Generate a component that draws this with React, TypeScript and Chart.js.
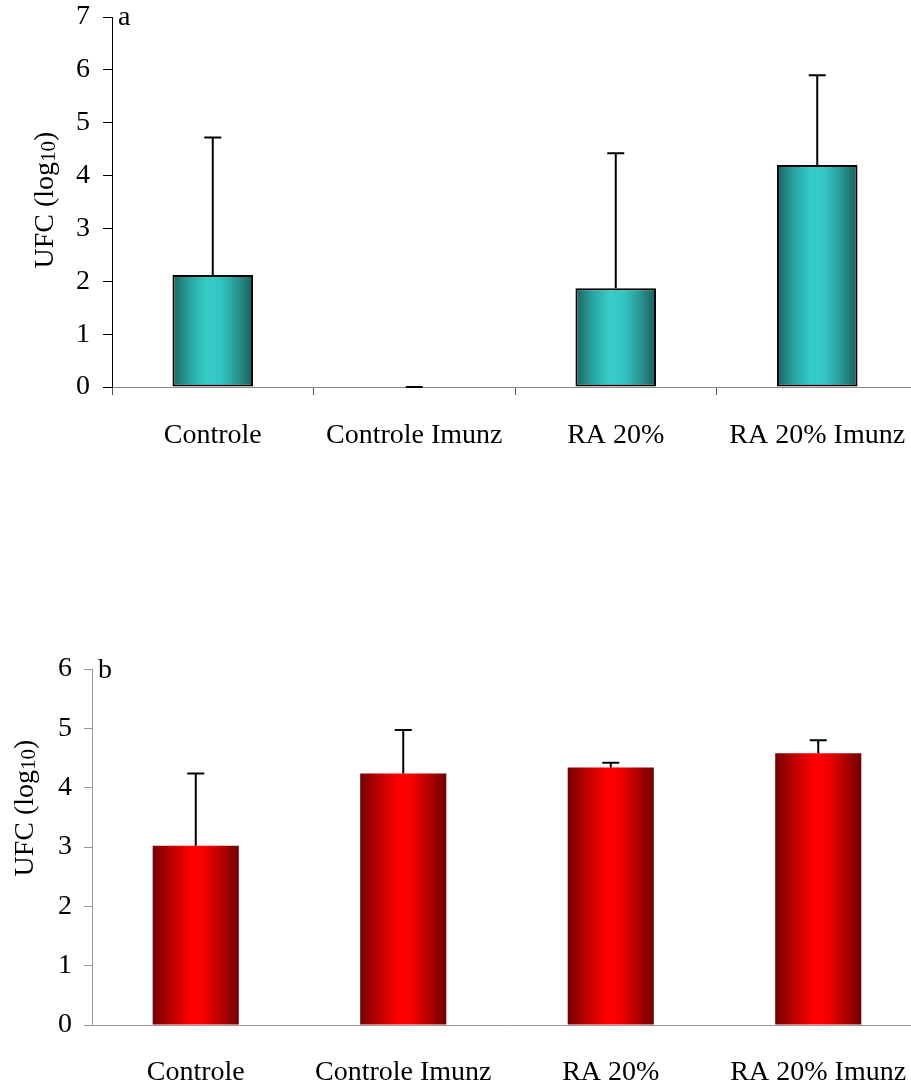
import React, { useEffect, useRef } from "react";
import { Chart, registerables } from "chart.js";

Chart.register(...registerables);

// ---- data ----
const categories = ["Controle", "Controle Imunz", "RA 20%", "RA 20% Imunz"];
const valuesA = [2.12, 0, 1.87, 4.2];
const errorsA = [2.6, 0, 2.55, 1.7];
const valuesB = [3.02, 4.24, 4.34, 4.58];
const errorsB = [1.22, 0.73, 0.08, 0.22];
const yMaxA = 7;
const yMaxB = 6;
const titleMain = "UFC (log";
const titleSub = "10";
const titleEnd = ")";
const panelA = "a";
const panelB = "b";

const FONT = "'Liberation Serif', 'Times New Roman', serif";

type Panel = {
  values: number[];
  errors: number[];
  yMax: number;
  width: number;
  height: number;
  areaLeft: number;
  areaTop: number;
  areaBottom: number;
  barPct: number;
  stops: [number, string][];
  border: boolean;
  yAxisColor: string;
  xAxisColor: string;
  xTicks: boolean;
  yTickLen: number;
  yTickPad: number;
  xLabelPad: number;
  titleX: number;
  titleY: number;
  letter: string;
  letterX: number;
  letterY: number;
};

function makeConfig(p: Panel): any {
  const errorPlugin = {
    id: "errbars",
    afterDatasetsDraw(chart: any) {
      const ctx = chart.ctx;
      const meta = chart.getDatasetMeta(0);
      const ys = chart.scales.y;
      ctx.save();
      ctx.strokeStyle = "#000";
      ctx.lineWidth = 2;
      meta.data.forEach((el: any, i: number) => {
        const top = ys.getPixelForValue(p.values[i] + p.errors[i]);
        ctx.beginPath();
        ctx.moveTo(el.x, el.y);
        ctx.lineTo(el.x, top);
        ctx.moveTo(el.x - 8.5, top);
        ctx.lineTo(el.x + 8.5, top);
        ctx.stroke();
      });
      ctx.restore();
    },
  };
  const textPlugin = {
    id: "texts",
    afterDraw(chart: any) {
      const ctx = chart.ctx;
      ctx.save();
      ctx.fillStyle = "#000";
      ctx.textBaseline = "alphabetic";
      ctx.textAlign = "left";
      const big = `28px ${FONT}`;
      const small = `21px ${FONT}`;
      ctx.font = big;
      const w1 = ctx.measureText(titleMain).width;
      const w3 = ctx.measureText(titleEnd).width;
      ctx.font = small;
      const w2 = ctx.measureText(titleSub).width;
      const total = w1 + w2 + w3;
      ctx.translate(p.titleX, p.titleY);
      ctx.rotate(-Math.PI / 2);
      let x = -total / 2;
      ctx.font = big;
      ctx.fillText(titleMain, x, 0);
      x += w1;
      ctx.font = small;
      ctx.fillText(titleSub, x, 2);
      x += w2;
      ctx.font = big;
      ctx.fillText(titleEnd, x, 0);
      ctx.restore();
      ctx.save();
      ctx.fillStyle = "#000";
      ctx.font = big;
      ctx.textBaseline = "alphabetic";
      ctx.textAlign = "left";
      ctx.fillText(p.letter, p.letterX, p.letterY);
      ctx.restore();
    },
  };

  const bg = (c: any) => {
    const chart = c.chart;
    const xs = chart.scales && chart.scales.x;
    if (!xs || c.dataIndex === undefined || !xs.width) return p.stops[Math.floor(p.stops.length / 2)][1];
    const cx = xs.getPixelForValue(c.dataIndex);
    const w = (xs.width / categories.length) * p.barPct;
    const g = chart.ctx.createLinearGradient(cx - w / 2, 0, cx + w / 2, 0);
    p.stops.forEach(([o, col]) => g.addColorStop(o, col));
    return g;
  };

  const xAxisHeight = p.height - p.areaBottom;

  return {
    type: "bar",
    data: {
      labels: categories,
      datasets: [
        {
          data: p.values,
          backgroundColor: bg,
          borderColor: "#000",
          borderWidth: p.border ? 2 : 0,
          borderSkipped: false,
          categoryPercentage: p.barPct,
          barPercentage: 1,
        },
      ],
    },
    options: {
      animation: false,
      responsive: false,
      maintainAspectRatio: false,
      events: [],
      layout: { padding: { top: p.areaTop, left: 0, right: 0, bottom: 0 } },
      plugins: { legend: { display: false }, tooltip: { enabled: false }, title: { display: false } },
      scales: {
        x: {
          grid: {
            display: true,
            drawOnChartArea: false,
            drawTicks: p.xTicks,
            tickLength: 8,
            color: "#555",
            offset: true,
          },
          border: { display: true, color: p.xAxisColor, width: 1 },
          ticks: {
            color: "#000",
            font: { family: FONT, size: 28 },
            padding: p.xLabelPad,
            maxRotation: 0,
            autoSkip: false,
          },
          afterFit(scale: any) {
            scale.height = xAxisHeight;
            scale.paddingLeft = 0;
            scale.paddingRight = 0;
          },
        },
        y: {
          min: 0,
          max: p.yMax,
          grid: {
            display: true,
            drawOnChartArea: false,
            drawTicks: true,
            tickLength: p.yTickLen,
            color: p.yAxisColor,
          },
          border: { display: true, color: p.yAxisColor, width: 1 },
          ticks: {
            stepSize: 1,
            color: "#000",
            font: { family: FONT, size: 28 },
            padding: p.yTickPad,
          },
          afterFit(scale: any) {
            scale.width = p.areaLeft;
            scale.paddingTop = 0;
            scale.paddingBottom = 0;
          },
        },
      },
    },
    plugins: [errorPlugin, textPlugin],
  };
}

const panelTop: Panel = {
  values: valuesA,
  errors: errorsA,
  yMax: yMaxA,
  width: 918,
  height: 470,
  areaLeft: 112,
  areaTop: 17,
  areaBottom: 387,
  barPct: 0.4,
  stops: [
    [0, "#1d6361"],
    [0.2, "#29a09d"],
    [0.42, "#35cdc9"],
    [0.6, "#33c6c2"],
    [0.8, "#279793"],
    [1, "#1b5c5a"],
  ],
  border: true,
  yAxisColor: "#000",
  xAxisColor: "#888",
  xTicks: true,
  yTickLen: 9,
  yTickPad: 13,
  xLabelPad: 24,
  titleX: 53,
  titleY: 200,
  letter: panelA,
  letterX: 118,
  letterY: 25,
};

const panelBottom: Panel = {
  values: valuesB,
  errors: errorsB,
  yMax: yMaxB,
  width: 922,
  height: 485,
  areaLeft: 92,
  areaTop: 69,
  areaBottom: 425,
  barPct: 0.415,
  stops: [
    [0, "#760000"],
    [0.2, "#b80000"],
    [0.45, "#ff0000"],
    [0.6, "#f60000"],
    [0.8, "#b50000"],
    [1, "#700000"],
  ],
  border: false,
  yAxisColor: "#999",
  xAxisColor: "#999",
  xTicks: false,
  yTickLen: 8,
  yTickPad: 12,
  xLabelPad: 31,
  titleX: 33,
  titleY: 208,
  letter: panelB,
  letterX: 98,
  letterY: 78,
};

function BarPanel({ panel, top }: { panel: Panel; top: number }) {
  const ref = useRef<HTMLCanvasElement | null>(null);
  useEffect(() => {
    if (!ref.current) return;
    const chart = new Chart(ref.current, makeConfig(panel));
    return () => chart.destroy();
  }, [panel]);
  return (
    <canvas
      ref={ref}
      width={panel.width}
      height={panel.height}
      style={{ position: "absolute", left: 0, top, width: panel.width, height: panel.height }}
    />
  );
}

export default function App() {
  return (
    <div
      style={{
        position: "absolute",
        left: 0,
        top: 0,
        width: 911,
        height: 1085,
        overflow: "hidden",
        background: "#fff",
      }}
    >
      <BarPanel panel={panelTop} top={0} />
      <BarPanel panel={panelBottom} top={600} />
    </div>
  );
}
